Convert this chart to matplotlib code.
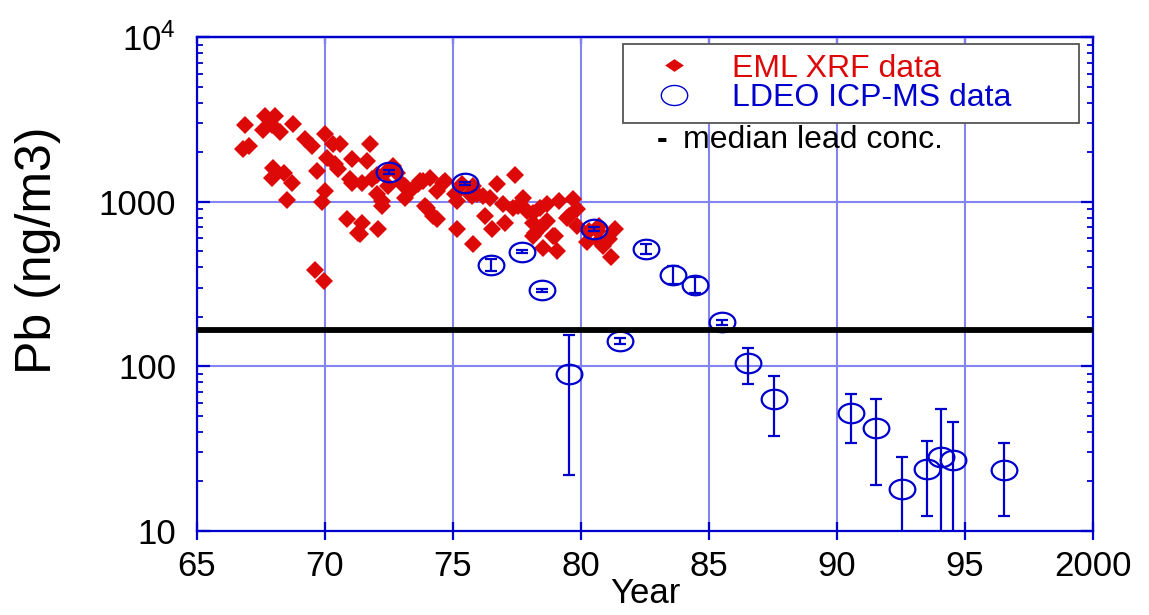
import matplotlib
matplotlib.use('Agg')
import matplotlib.pyplot as plt
from matplotlib.path import Path
from matplotlib.transforms import Affine2D
from matplotlib.lines import Line2D
from matplotlib.ticker import LogLocator, NullFormatter

plt.rcParams['font.family'] = ['Liberation Sans', 'DejaVu Sans']
plt.rcParams['mathtext.fontset'] = 'custom'
plt.rcParams['mathtext.rm'] = 'Liberation Sans'

RED = '#dd0808'
BLUE = '#0000cc'
GRID = '#8484f0'

# EML XRF data (year, Pb ng/m3)
eml_year = [66.87, 66.79, 67.03, 67.65, 68.04, 67.58, 67.93, 68.24, 68.75, 69.21,
            69.49, 70.00, 70.31, 70.58, 71.75, 67.97, 68.39, 67.93, 68.71, 68.51,
            69.68, 70.07, 70.38, 70.00, 69.88, 70.50, 71.05, 71.63, 70.97, 71.44,
            72.02, 72.22, 70.85, 71.44, 71.36, 72.06, 69.60, 69.96, 72.65, 72.34,
            71.83, 73.12, 73.62, 73.12, 71.05, 72.02, 72.80, 72.45, 72.22, 73.00,
            73.31, 73.70, 74.09, 74.60, 74.36, 73.97, 74.21, 74.68, 75.34, 75.65,
            75.07, 71.28, 75.14, 75.77, 73.82, 76.70, 77.41, 73.90, 74.36, 75.14,
            76.16, 76.24, 76.51, 76.94, 77.02, 77.72, 77.52, 78.11, 78.38, 78.11,
            78.66, 79.16, 79.67, 79.55, 78.97, 78.50, 79.05, 79.83, 80.33, 80.72,
            81.31, 80.22, 80.72, 81.11, 81.19, 75.73, 75.77, 75.92, 76.43, 77.33,
            77.88, 78.38, 79.83, 79.44, 78.66, 78.11, 78.19, 78.89, 80.84, 80.65]
eml_pb = [2930, 2094, 2185, 3318, 3318, 2731, 2930, 2655, 2970, 2408,
          2185, 2582, 2247, 2247, 2247, 1607, 1499, 1397, 1303, 1028,
          1541, 1848, 1700, 1166, 1000, 1585, 1823, 1772, 1378, 1303,
          1117, 946, 789, 746, 640, 686, 382, 332, 1652, 1499,
          1378, 1250, 1285, 1057, 1303, 1458, 1499, 1250, 1014, 1285,
          1166, 1340, 1397, 1303, 1166, 920, 822, 1340, 1285, 1117,
          1117, 649, 686, 556, 1340, 1285, 1458, 946, 789, 1014,
          1087, 822, 686, 973, 746, 1057, 946, 858, 695, 622,
          973, 1014, 1043, 822, 622, 526, 505, 716, 667, 716,
          686, 565, 580, 597, 464, 1087, 1250, 1117, 1057, 920,
          882, 920, 907, 800, 767, 746, 649, 622, 541, 667]

# LDEO ICP-MS data with error bar ends
ldeo_year = [72.49, 75.48, 76.47, 77.68, 78.49, 79.54, 80.49, 81.53, 82.52, 83.59,
             84.47, 85.50, 86.52, 87.53, 90.53, 91.52, 92.53, 93.51, 94.07, 94.53, 96.53]
ldeo_pb = [1520, 1290, 413, 498, 289, 90, 684, 142, 516, 361,
           310, 185, 105, 63, 52, 42, 17.9, 23.9, 28, 27, 23.4]
ldeo_hi = [1560, 1320, 447, 510, 296, 156, 700, 148, 553, 404,
           347, 192, 130, 87, 68, 63, 28, 35, 55, 46, 34]
ldeo_lo = [1480, 1260, 381, 486, 282, 22, 668, 136, 482, 318,
           277, 178, 78, 38, 34, 19, 9, 12.3, 5, 5, 12.3]

median_pb = 167

x_ticks = [65, 70, 75, 80, 85, 90, 95, 100]
x_labels = ['65', '70', '75', '80', '85', '90', '95', '2000']
y_ticks = [10, 100, 1000, 10000]
y_labels = ['10', '100', '1000', r'$\mathregular{10^4}$']

ellipse = Path.unit_circle().transformed(Affine2D().scale(1.0, 0.76))
flat_diamond = Path([(0, 0.68), (1, 0), (0, -0.68), (-1, 0), (0, 0.68)],
                    [Path.MOVETO, Path.LINETO, Path.LINETO, Path.LINETO, Path.CLOSEPOLY])

fig = plt.figure(figsize=(11.49, 6.15), dpi=100)
ax = fig.add_axes([197 / 1149, 1 - 531 / 615, 896 / 1149, 494 / 615])

ax.plot(eml_year, eml_pb, ls='none', marker='D', ms=9, mfc=RED, mec=RED, mew=0, zorder=3)

yerr = [[p - l for p, l in zip(ldeo_pb, ldeo_lo)], [h - p for p, h in zip(ldeo_pb, ldeo_hi)]]
ax.errorbar(ldeo_year, ldeo_pb, yerr=yerr, fmt='none', ecolor=BLUE, elinewidth=1.6,
            capsize=4.5, capthick=1.6, zorder=4)
ax.plot(ldeo_year, ldeo_pb, ls='none', marker=ellipse, ms=18.5, mfc='none', mec=BLUE,
        mew=1.6, zorder=5)

ax.axhline(median_pb, color='black', lw=4.2, zorder=6)

ax.set_yscale('log')
ax.set_xlim(65, 100)
ax.set_ylim(10, 10000)
ax.set_xticks(x_ticks)
ax.set_xticklabels(x_labels)
ax.set_yticks(y_ticks)
ax.set_yticklabels(y_labels)
ax.yaxis.set_minor_locator(LogLocator(base=10, subs=range(2, 10)))
ax.yaxis.set_minor_formatter(NullFormatter())

ax.grid(True, which='major', color=GRID, lw=1.5)
ax.set_axisbelow(True)
for s in ax.spines.values():
    s.set_color(BLUE)
    s.set_linewidth(1.6)

ax.tick_params(axis='x', direction='inout', length=13, width=1.6, color=BLUE,
               pad=7, labelsize=25, top=False)
ax.tick_params(axis='y', which='major', direction='in', length=9, width=1.6, color=BLUE,
               pad=15, labelsize=25, left=True, right=True)
ax.tick_params(axis='y', which='minor', direction='in', length=4.5, width=1.3, color=BLUE,
               left=True, right=True)

top = ax.secondary_xaxis('top')
top.set_xticks(x_ticks)
top.tick_params(direction='in', length=5, width=1.6, color=BLUE, labeltop=False)
top.spines['top'].set_color(BLUE)
top.spines['top'].set_linewidth(1.6)

ax.set_xlabel('Year', fontsize=25)
ax.xaxis.set_label_coords(0.5, -0.093)
ax.set_ylabel('Pb (ng/m3)', fontsize=36)
ax.yaxis.set_label_coords(-0.152, 0.569)

h1 = Line2D([], [], ls='none', marker=flat_diamond, ms=13.5, color=RED, mew=0)
h2 = Line2D([], [], ls='none', marker=ellipse, ms=19, mfc='none', mec=BLUE, mew=1)
leg = ax.legend([h1, h2], ['EML XRF data', 'LDEO ICP-MS data'], loc='upper left',
                bbox_to_anchor=(623 / 1149, 1 - 121 / 615, 456 / 1149, 77 / 615),
                bbox_transform=fig.transFigure, mode='expand', fontsize=23,
                labelcolor=[RED, BLUE], fancybox=False, edgecolor='#555555',
                framealpha=1, borderpad=0.3, labelspacing=-0.02, handlelength=2.6,
                handletextpad=0.5, borderaxespad=0)
leg.get_frame().set_linewidth(1.3)
leg.set_zorder(10)

fig.text(662 / 1149, 1 - 140 / 615, '-', fontsize=23, ha='center', va='center',
         fontweight='bold')
fig.text(683 / 1149, 1 - 140 / 615, 'median lead conc.', fontsize=23, ha='left', va='center')

fig.savefig('out.png', dpi=100)
